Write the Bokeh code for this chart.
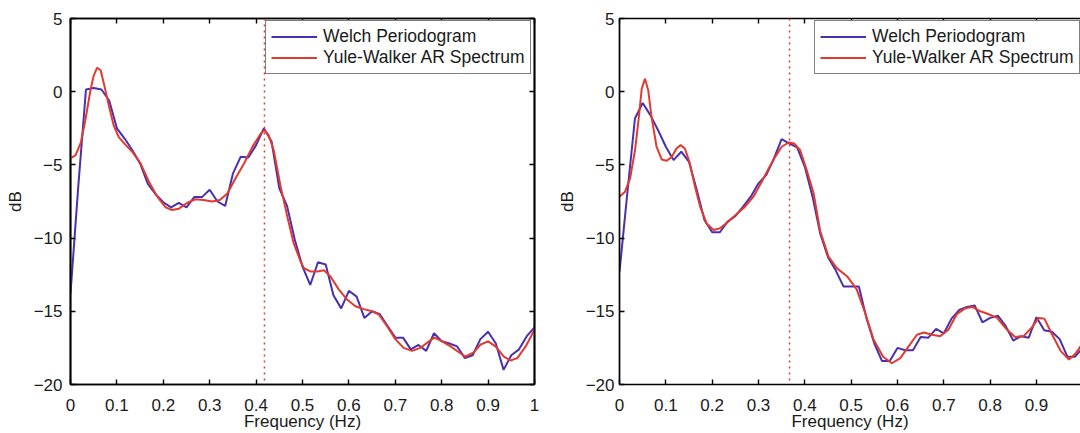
from bokeh.plotting import figure
from bokeh.layouts import row
from bokeh.models import (Span, LinearAxis, FixedTicker, CustomJSTickFormatter,
                          Legend, LegendItem, Range1d)
from bokeh.embed import file_html
from bokeh.resources import INLINE

FONT = "Liberation Sans"
BLUE = "#4a2fae"
RED = "#e23a2e"
TXT = "#1a1a1a"

# ---------------- data ----------------
welch_freq = [k / 60 for k in range(61)]

left_welch = [-13.8, -6.5, 0.15, 0.25, 0.15, -0.6, -2.5, -3.2, -4.0, -4.9,
              -6.3, -7.0, -7.55, -7.9, -7.6, -7.9, -7.2, -7.2, -6.7, -7.5,
              -7.8, -5.6, -4.45, -4.5, -3.65, -2.5, -3.4, -6.6, -7.8, -10.1,
              -11.95, -13.2, -11.65, -11.8, -13.9, -14.8, -13.6, -14.0, -15.45, -15.0,
              -15.2, -16.0, -16.8, -16.8, -17.6, -17.3, -17.7, -16.5, -17.05, -17.2,
              -17.4, -18.2, -18.0, -16.9, -16.4, -17.2, -19.0, -18.0, -17.6, -16.7,
              -16.1]

right_welch = [-12.3, -7.0, -1.83, -0.77, -1.6, -2.63, -3.76, -4.67, -4.1, -4.8,
               -6.7, -8.76, -9.6, -9.6, -8.87, -8.5, -7.85, -7.17, -6.26, -5.7,
               -4.56, -3.24, -3.54, -3.8, -5.13, -7.17, -9.7, -11.3, -12.2, -13.3,
               -13.3, -13.3, -15.5, -17.2, -18.4, -18.4, -17.5, -17.66, -17.66, -16.75,
               -16.8, -16.2, -16.5, -15.5, -14.9, -14.7, -14.6, -15.75, -15.45, -15.3,
               -16.0, -17.0, -16.7, -16.8, -15.4, -16.3, -16.4, -16.9, -18.1, -18.1,
               -17.5]

left_yw_freq = [0.0, 0.011, 0.022, 0.032, 0.043, 0.05, 0.0575, 0.065, 0.072, 0.083,
                0.093, 0.104, 0.119, 0.133, 0.151, 0.169, 0.187, 0.205, 0.219, 0.233,
                0.251, 0.269, 0.287, 0.305, 0.322, 0.338, 0.356, 0.374, 0.392, 0.41,
                0.418, 0.427, 0.438, 0.453, 0.467, 0.481, 0.496, 0.503, 0.517, 0.532,
                0.546, 0.56, 0.578, 0.596, 0.614, 0.632, 0.65, 0.664, 0.682, 0.7,
                0.718, 0.736, 0.754, 0.768, 0.784, 0.801, 0.819, 0.837, 0.851, 0.869,
                0.884, 0.9, 0.916, 0.934, 0.948, 0.963, 0.981, 1.0]
left_yw = [-4.56, -4.33, -3.5, -1.95, 0.1, 1.1, 1.64, 1.46, 0.55, -1.0,
           -2.3, -3.1, -3.65, -4.1, -4.9, -6.15, -7.17, -7.9, -8.08, -8.0,
           -7.6, -7.35, -7.4, -7.5, -7.4, -6.95, -5.9, -4.9, -3.77, -2.86,
           -2.63, -2.97, -4.0, -6.5, -8.5, -10.35, -11.6, -12.05, -12.28, -12.28,
           -12.2, -12.6, -13.5, -14.2, -14.66, -14.85, -15.0, -15.2, -16.0, -16.9,
           -17.5, -17.7, -17.5, -17.16, -16.8, -17.05, -17.4, -17.8, -18.1, -17.8,
           -17.27, -17.05, -17.4, -18.1, -18.36, -18.2, -17.4, -16.25]

right_yw_freq = [0.0, 0.012, 0.023, 0.0335, 0.041, 0.048, 0.055, 0.062, 0.069, 0.08,
                 0.091, 0.102, 0.113, 0.123, 0.132, 0.141, 0.152, 0.163, 0.174, 0.188,
                 0.203, 0.217, 0.235, 0.253, 0.271, 0.289, 0.307, 0.322, 0.336, 0.35,
                 0.365, 0.377, 0.39, 0.404, 0.419, 0.433, 0.451, 0.469, 0.491, 0.512,
                 0.53, 0.548, 0.569, 0.588, 0.606, 0.624, 0.642, 0.657, 0.675, 0.692,
                 0.71, 0.728, 0.746, 0.761, 0.779, 0.797, 0.815, 0.836, 0.854, 0.872,
                 0.89, 0.905, 0.917, 0.934, 0.952, 0.97, 0.984, 0.995]
right_yw = [-7.17, -6.83, -5.9, -4.0, -1.95, 0.2, 0.89, 0.1, -1.7, -3.76,
            -4.63, -4.72, -4.45, -3.88, -3.65, -3.88, -4.9, -6.5, -7.85, -9.0,
            -9.45, -9.33, -8.87, -8.35, -7.85, -7.17, -6.15, -5.24, -4.45, -3.76,
            -3.47, -3.54, -4.0, -5.35, -6.94, -9.5, -11.26, -12.05, -12.6, -13.5,
            -15.1, -16.9, -18.1, -18.55, -18.2, -17.4, -16.6, -16.45, -16.6, -16.7,
            -16.25, -15.2, -14.8, -14.7, -15.0, -15.2, -15.45, -16.25, -16.75, -16.7,
            -16.1, -15.45, -15.5, -16.6, -17.7, -18.3, -17.9, -17.4]

left_peak = 0.418
right_peak = 0.367

x_ticks = [0, 0.1, 0.2, 0.3, 0.4, 0.5, 0.6, 0.7, 0.8, 0.9, 1]
x_labels = ["0", "0.1", "0.2", "0.3", "0.4", "0.5", "0.6", "0.7", "0.8", "0.9", "1"]
y_ticks = [-20, -15, -10, -5, 0, 5]
y_labels = ["\u221220", "\u221215", "\u221210", "\u22125", "0", "5"]

legend_labels = ["Welch Periodogram", "Yule-Walker AR Spectrum"]

FS = "17px"


def style_axis(ax, ticks, labels, show_labels=True):
    ax.ticker = FixedTicker(ticks=ticks)
    ax.major_tick_in = 5
    ax.major_tick_out = 0
    ax.minor_tick_line_color = None
    ax.axis_line_color = "black"
    ax.axis_line_width = 1.7
    ax.major_tick_line_color = "black"
    ax.major_tick_line_width = 1.4
    if show_labels:
        ax.major_label_overrides = {t: l for t, l in zip(ticks, labels)}
        ax.major_label_text_font = FONT
        ax.major_label_text_font_size = FS
        ax.major_label_text_color = TXT
    else:
        ax.formatter = CustomJSTickFormatter(code="return ''")
        ax.major_label_text_font_size = "0px"
        ax.major_label_standoff = 0


def make_panel(wel, yw_f, yw_v, peak, x_end, width, border_left, border_right,
               mirror_right, legend_x, ylab_standoff):
    p = figure(width=width, height=433,
               x_range=Range1d(0, x_end), y_range=Range1d(-20, 5),
               output_backend="svg", toolbar_location=None,
               min_border_left=border_left, min_border_right=border_right,
               min_border_top=18, min_border_bottom=48)
    p.grid.visible = False
    p.outline_line_color = "black" if mirror_right else None
    p.outline_line_width = 1.7
    p.background_fill_color = "white"
    p.border_fill_color = "white"

    xa = p.xaxis[0]
    style_axis(xa, x_ticks, x_labels)
    xa.major_label_standoff = 14
    xa.axis_label = "Frequency (Hz)"
    xa.axis_label_text_font = FONT
    xa.axis_label_text_font_size = FS
    xa.axis_label_text_font_style = "normal"
    xa.axis_label_text_color = TXT
    xa.axis_label_standoff = -2

    ya = p.yaxis[0]
    style_axis(ya, y_ticks, y_labels)
    ya.major_label_standoff = ylab_standoff
    ya.axis_label = "dB"
    ya.axis_label_text_font = FONT
    ya.axis_label_text_font_size = FS
    ya.axis_label_text_font_style = "normal"
    ya.axis_label_text_color = TXT
    ya.axis_label_standoff = 6

    top = LinearAxis()
    style_axis(top, x_ticks, x_labels, show_labels=False)
    p.add_layout(top, "above")
    if mirror_right:
        right = LinearAxis()
        style_axis(right, y_ticks, y_labels, show_labels=False)
        p.add_layout(right, "right")

    p.add_layout(Span(location=peak, dimension="height", line_color=RED,
                      line_dash="2 4", line_width=1.5))

    r1 = p.line(welch_freq, wel, line_color=BLUE, line_width=2)
    r2 = p.line(yw_f, yw_v, line_color=RED, line_width=2)

    leg = Legend(items=[LegendItem(label=legend_labels[0], renderers=[r1]),
                        LegendItem(label=legend_labels[1], renderers=[r2])],
                 location=(legend_x, 310))
    leg.margin = 0
    leg.padding = 5
    leg.spacing = 0
    leg.glyph_width = 46
    leg.glyph_height = 19
    leg.label_height = 19
    leg.label_standoff = 6
    leg.label_text_font = FONT
    leg.label_text_font_size = "17.5px"
    leg.label_text_color = TXT
    leg.border_line_color = "black"
    leg.border_line_width = 1.3
    leg.background_fill_color = "white"
    leg.background_fill_alpha = 1.0
    p.add_layout(leg)
    return p


p1 = make_panel(left_welch, left_yw_freq, left_yw, left_peak, 1.0,
                553, 70, 19, True, 195, 8)
p2 = make_panel(right_welch, right_yw_freq, right_yw, right_peak, 0.995,
                527, 66, 0, False, 195, 5)

layout = row(p1, p2)
open("out.html", "w").write(file_html(layout, INLINE))
